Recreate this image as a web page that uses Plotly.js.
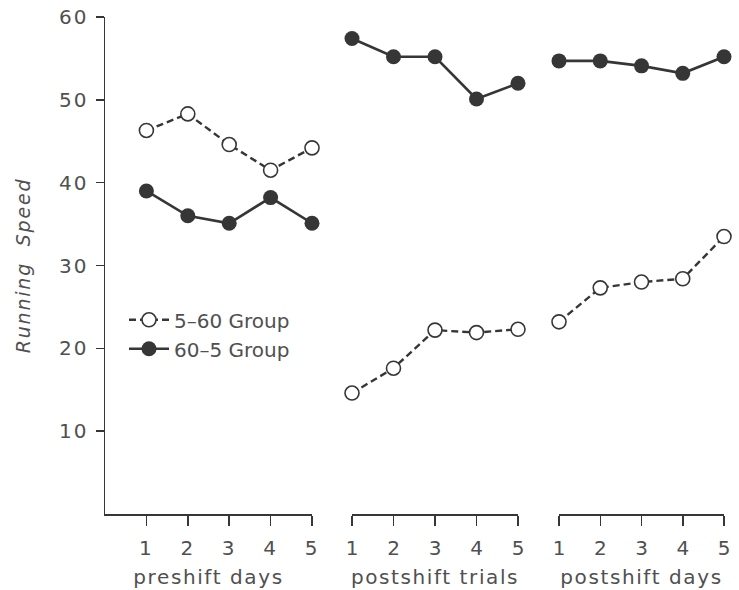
<!DOCTYPE html>
<html>
<head>
<meta charset="utf-8">
<script src="https://cdn.plot.ly/plotly-3.0.1.min.js"></script>
<style>
html,body{margin:0;padding:0;background:#fff;}
#chart .xtick text, #chart .ytick text { letter-spacing: 2px; }
#chart .g-xtitle text, #chart .g-x2title text, #chart .g-x3title text { letter-spacing: 1.6px; }
#chart .g-ytitle text { letter-spacing: 1.8px; }
</style>
</head>
<body>
<div id="chart" style="width:739px;height:590px;"></div>
<script>
// Data
const positions = [1, 2, 3, 4, 5];
const tickLabels = ["1", "2", "3", "4", "5"];
const panelTitles = ["preshift days", "postshift trials", "postshift days"];
const seriesNames = ["5\u201360 Group", "60\u20135 Group"];

const group560_preshiftDays   = [46.3, 48.3, 44.6, 41.5, 44.2];
const group560_postshiftTrials = [14.6, 17.6, 22.2, 21.9, 22.3];
const group560_postshiftDays   = [23.2, 27.3, 28.0, 28.4, 33.5];

const group605_preshiftDays   = [39.0, 36.0, 35.1, 38.2, 35.1];
const group605_postshiftTrials = [57.4, 55.2, 55.2, 50.1, 52.0];
const group605_postshiftDays   = [54.7, 54.7, 54.1, 53.2, 55.2];

const yTicks = [10, 20, 30, 40, 50, 60];

const ink = '#363636';
const textInk = '#505050';
const fontFam = 'DejaVu Sans, Liberation Sans, sans-serif';

const openSeries = [group560_preshiftDays, group560_postshiftTrials, group560_postshiftDays];
const filledSeries = [group605_preshiftDays, group605_postshiftTrials, group605_postshiftDays];
const xRefs = ['x', 'x2', 'x3'];

const traces = [];
openSeries.forEach((vals, i) => {
  traces.push({
    x: positions, y: vals, xaxis: xRefs[i], yaxis: 'y',
    type: 'scatter', mode: 'lines+markers',
    name: seriesNames[0], legendgroup: 'open', showlegend: i === 0,
    line: {color: ink, width: 2.4, dash: '7px,4px'},
    marker: {symbol: 'circle', size: 14, color: '#ffffff', line: {color: ink, width: 1.6}},
    cliponaxis: false
  });
});
filledSeries.forEach((vals, i) => {
  traces.push({
    x: positions, y: vals, xaxis: xRefs[i], yaxis: 'y',
    type: 'scatter', mode: 'lines+markers',
    name: seriesNames[1], legendgroup: 'filled', showlegend: i === 0,
    line: {color: ink, width: 2.6},
    marker: {symbol: 'circle', size: 15, color: ink, line: {color: ink, width: 0}},
    cliponaxis: false
  });
});

function xAxis(domain, range, title) {
  return {
    domain: domain, range: range, anchor: 'y',
    tickvals: positions, ticktext: tickLabels,
    ticks: 'outside', ticklen: 10, tickwidth: 1.5, tickcolor: ink,
    ticklabelstandoff: 5,
    showline: true, linecolor: ink, linewidth: 1.5,
    showgrid: false, zeroline: false,
    tickfont: {family: fontFam, size: 20, color: textInk},
    title: {text: title, font: {family: fontFam, size: 20, color: textInk}, standoff: 11},
    fixedrange: true
  };
}

const W = 739, L = 105, R = 15;
const pw = W - L - R;
function px2dom(p) { return (p - L) / pw; }

const layout = {
  width: 739, height: 590,
  margin: {l: L, r: R, t: 17, b: 76},
  paper_bgcolor: '#ffffff', plot_bgcolor: '#ffffff',
  showlegend: true,
  legend: {
    x: px2dom(124), y: 0.43, xanchor: 'left', yanchor: 'top',
    font: {family: fontFam, size: 20, color: textInk},
    bgcolor: 'rgba(0,0,0,0)', itemwidth: 40, tracegroupgap: 0
  },
  xaxis: xAxis([0, px2dom(312)], [0, 5], panelTitles[0]),
  xaxis2: xAxis([px2dom(352), px2dom(518)], [1, 5], panelTitles[1]),
  xaxis3: xAxis([px2dom(559), 1], [1, 5], panelTitles[2]),
  yaxis: {
    range: [0, 60], anchor: 'x',
    tickvals: yTicks,
    ticks: 'outside', ticklen: 8, tickwidth: 1.5, tickcolor: ink,
    ticklabelstandoff: 3,
    showline: true, linecolor: ink, linewidth: 1.5,
    showgrid: false, zeroline: false,
    tickfont: {family: fontFam, size: 20, color: textInk},
    title: {text: '<i>Running  Speed</i>', font: {family: fontFam, size: 19, color: textInk}, standoff: 27},
    fixedrange: true
  }
};

Plotly.newPlot('chart', traces, layout, {displayModeBar: false, staticPlot: true});
</script>
</body>
</html>
